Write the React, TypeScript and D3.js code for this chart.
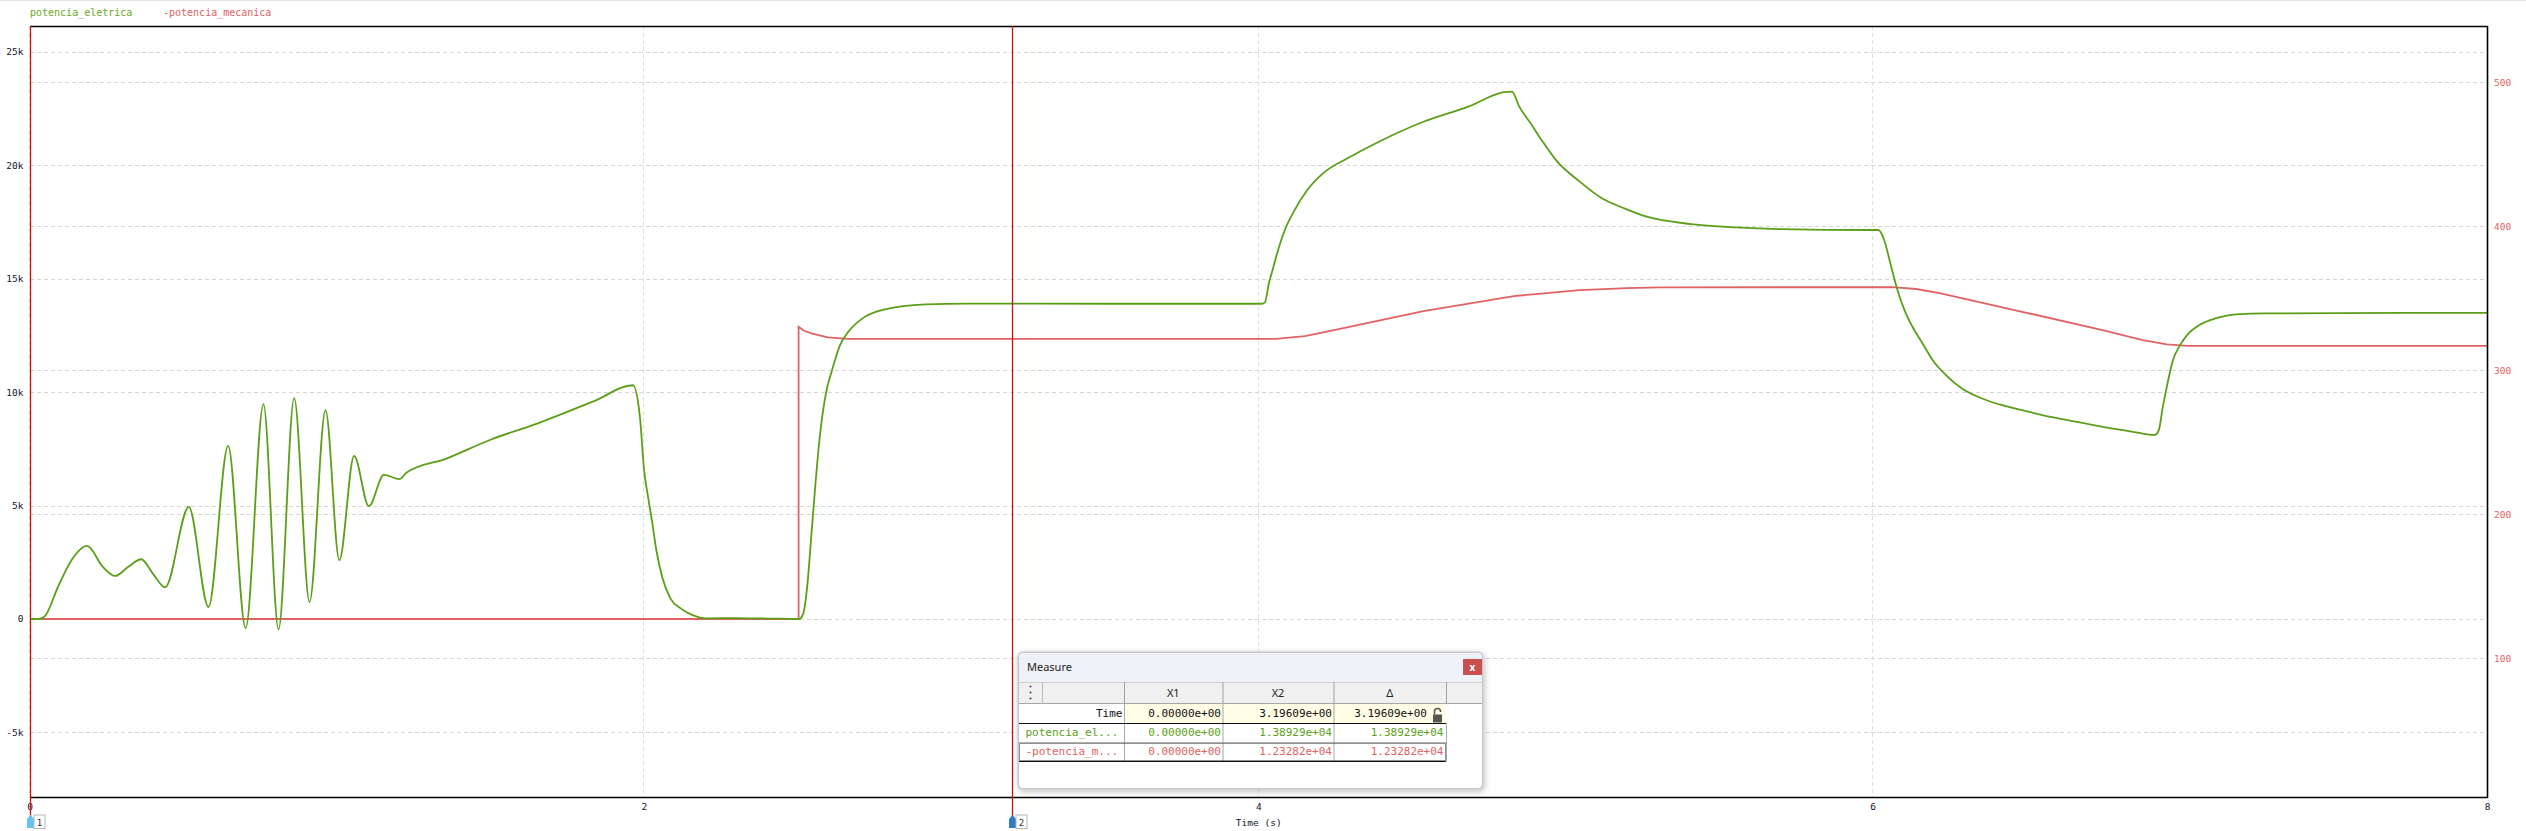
import React from "react";
import * as d3 from "d3";

// ---------- data ----------
const eletricaT = [0, 0.03, 0.05, 0.091, 0.135, 0.186, 0.237, 0.277, 0.32, 0.362, 0.40, 0.44, 0.517, 0.581, 0.645, 0.702, 0.760, 0.809, 0.860, 0.910, 0.962, 1.007, 1.055, 1.103, 1.152, 1.203, 1.225, 1.356, 1.501, 1.646, 1.836, 1.963, 1.986, 1.999, 2.012, 2.026, 2.039, 2.058, 2.085, 2.119, 2.159, 2.199, 2.30, 2.40, 2.504, 2.517, 2.531, 2.544, 2.557, 2.571, 2.591, 2.611, 2.637, 2.664, 2.710, 2.783, 2.916, 3.049, 3.5, 4.006, 4.020, 4.033, 4.042, 4.063, 4.085, 4.114, 4.158, 4.216, 4.289, 4.391, 4.536, 4.682, 4.798, 4.824, 4.848, 4.885, 4.928, 4.972, 5.045, 5.117, 5.190, 5.263, 5.408, 5.554, 5.699, 5.989, 6.017, 6.036, 6.056, 6.076, 6.102, 6.128, 6.161, 6.194, 6.237, 6.289, 6.355, 6.420, 6.485, 6.551, 6.616, 6.682, 6.747, 6.813, 6.878, 6.917, 6.930, 6.943, 6.956, 6.976, 6.996, 7.022, 7.062, 7.114, 7.193, 7.271, 8.0];
const eletricaV = [0, 0, 150, 1410, 2590, 3219, 2300, 1896, 2300, 2632, 2000, 1398, 4938, 529, 7628, -410, 9466, -454, 9730, 750, 9200, 2590, 7190, 4970, 6350, 6160, 6440, 7070, 7910, 8585, 9600, 10300, 8835, 6556, 5380, 4205, 3030, 1850, 900, 458, 163, 30, 40, 20, 0, 235, 1560, 3765, 5970, 8025, 9940, 10965, 12070, 12655, 13245, 13640, 13860, 13900, 13890, 13890, 13950, 14790, 15230, 16260, 17140, 17950, 18900, 19710, 20300, 21030, 21910, 22575, 23210, 23240, 22575, 21840, 20960, 20150, 19270, 18535, 18095, 17725, 17400, 17255, 17180, 17140, 17140, 16700, 15670, 14640, 13610, 12875, 12140, 11405, 10745, 10160, 9717, 9420, 9200, 8980, 8805, 8640, 8465, 8320, 8170, 8110, 8320, 9350, 10230, 11405, 11990, 12510, 12950, 13245, 13435, 13465, 13490];

const mecanicaT = [0, 2.502, 2.502, 2.52, 2.544, 2.597, 2.664, 4.056, 4.15, 4.245, 4.536, 4.831, 5.045, 5.2, 5.307, 6.062, 6.14, 6.220, 6.485, 6.747, 6.878, 6.956, 7.024, 8.0];
const mecanicaV = [0, 0, 12875, 12700, 12583, 12407, 12346, 12340, 12460, 12730, 13567, 14228, 14493, 14580, 14610, 14625, 14540, 14347, 13536, 12730, 12288, 12098, 12037, 12037];

const xTicks = [0, 2, 4, 6, 8];
const leftTicks = [-5000, 0, 5000, 10000, 15000, 20000, 25000];
const leftTickLabels = ["-5k", "0", "5k", "10k", "15k", "20k", "25k"];
const rightTicks = [100, 200, 300, 400, 500];

const seriesNames = ["potencia_eletrica", "-potencia_mecanica"];
const cursorTimes = [0, 3.19609];
const measureCols = ["X1", "X2", "Δ"];
const measureLabels = ["Time", "potencia_el...", "-potencia_m..."];
const measureTime = ["0.00000e+00", "3.19609e+00", "3.19609e+00"];
const measureEl = ["0.00000e+00", "1.38929e+04", "1.38929e+04"];
const measureMec = ["0.00000e+00", "1.23282e+04", "1.23282e+04"];

// ---------- styles ----------
const GREEN = "#5b9f19";
const RED = "#e06262";
const CURSOR = "#cc1111";
const MONO = "'DejaVu Sans Mono', monospace";
const SANS = "'Noto Sans', 'DejaVu Sans', sans-serif";

const W = 2526, H = 831;
const L = 30, R = 2487.5, T = 26, B = 797.5;

export default function App() {
  const x = d3.scaleLinear().domain([0, 8]).range([L, R]);
  const yL = d3.scaleLinear().domain([-7865, 26128]).range([B, T]);
  const yR = d3.scaleLinear().domain([3.5, 539.1]).range([B, T]);

  const elData = eletricaT.map((t, i) => [t, eletricaV[i]] as [number, number]);
  const meData = mecanicaT.map((t, i) => [t, mecanicaV[i]] as [number, number]);

  const elLine = d3.line<[number, number]>().x(d => x(d[0])).y(d => yL(d[1])).curve(d3.curveMonotoneX);
  const meLine = d3.line<[number, number]>().x(d => x(d[0])).y(d => yL(d[1])).curve(d3.curveLinear);

  const snap = (v: number) => Math.round(v) + 0.5;

  // measure box layout
  const bx = 1018, by = 652, bw = 465, bh = 137;
  const colX = [1018, 1124, 1222.5, 1333.5, 1446, 1483];
  const rowY = [682, 704, 723, 742, 761];
  const rowTexts = [measureTime, measureEl, measureMec];
  const rowColors = ["#111", GREEN, RED];

  return (
    <svg width={W} height={H} style={{ position: "fixed", left: 0, top: 0, background: "#fff" }}>
      <defs>
        <filter id="shadow" x="-10%" y="-10%" width="130%" height="140%">
          <feDropShadow dx="1" dy="2" stdDeviation="3" floodColor="#000" floodOpacity="0.25" />
        </filter>
        <clipPath id="plotclip"><rect x={L} y={T} width={R - L} height={B - T} /></clipPath>
      </defs>
      <rect x={0} y={0} width={W} height={H} fill="#fff" />
      <rect x={0} y={0} width={W} height={1} fill="#e4e4e4" />

      {/* legend */}
      <text x={30} y={16} fontFamily={MONO} fontSize={10} fill="#6aa91f">{seriesNames[0]}</text>
      <text x={163} y={16} fontFamily={MONO} fontSize={10} fill={RED}>{seriesNames[1]}</text>

      {/* grid */}
      <g stroke="#d6d6d6" strokeWidth={1} strokeDasharray="4,3">
        {leftTicks.map(v => (
          <line key={"gl" + v} x1={L} x2={R} y1={snap(yL(v))} y2={snap(yL(v))} />
        ))}
        {rightTicks.map(v => (
          <line key={"gr" + v} x1={L} x2={R} y1={snap(yR(v))} y2={snap(yR(v))} />
        ))}
      </g>
      <g stroke="#dde3d2" strokeWidth={1} strokeDasharray="4,3">
        {xTicks.map(v => (
          <line key={"gx" + v} x1={snap(x(v)) - 1} x2={snap(x(v)) - 1} y1={T} y2={B} />
        ))}
      </g>

      {/* series */}
      <g clipPath="url(#plotclip)">
        <path d={meLine(meData) || ""} fill="none" stroke={RED} strokeWidth={1.8} />
        <path d={elLine(elData) || ""} fill="none" stroke={GREEN} strokeWidth={1.8} />
      </g>

      {/* frame */}
      <path d={`M${L},${T + 0.5}H${R}V${B}H${L}`} fill="none" stroke="#000" strokeWidth={1.6} />

      {/* left axis labels */}
      {leftTicks.map((v, i) => (
        <text key={"lt" + v} x={23.5} y={yL(v) + 3.5} textAnchor="end" fontFamily={MONO} fontSize={9.5} fill="#14142a">
          {leftTickLabels[i]}
        </text>
      ))}
      {/* right axis labels */}
      {rightTicks.map(v => (
        <text key={"rt" + v} x={2494} y={yR(v) + 3.5} fontFamily={MONO} fontSize={9.5} fill={RED}>
          {v}
        </text>
      ))}
      {/* x axis labels */}
      {xTicks.map(v => (
        <text key={"xt" + v} x={x(v)} y={810} textAnchor="middle" fontFamily={MONO} fontSize={9.5} fill="#14142a">
          {v}
        </text>
      ))}
      <text x={(L + R) / 2} y={826} textAnchor="middle" fontFamily={MONO} fontSize={9.5} fill="#14142a">Time (s)</text>

      {/* cursors */}
      {cursorTimes.map((t, i) => {
        const cx = Math.round(x(t)) + 0.5;
        const my = 815;
        return (
          <g key={"c" + i}>
            <line x1={cx} x2={cx} y1={T} y2={my + 2} stroke={CURSOR} strokeWidth={1.3} />
            <path d={`M${cx - 3.5},${my + 13}V${my + 4}L${cx},${my}L${cx + 3.5},${my + 4}V${my + 13}Z`} fill={i === 0 ? "#62c4f6" : "#2f7fc2"} />
            <rect x={cx + 3.5} y={my} width={11} height={13.5} fill="#fff" stroke="#b8b8b8" strokeWidth={1} />
            <text x={cx + 9} y={my + 10.5} textAnchor="middle" fontFamily={MONO} fontSize={9} fill="#333">{i + 1}</text>
          </g>
        );
      })}

      {/* measure box */}
      <g>
        <rect x={bx} y={by} width={bw} height={bh} rx={4} fill="#fff" stroke="#c6c6c6" filter="url(#shadow)" />
        <path d={`M${bx + 4},${by}H${bx + bw - 4}Q${bx + bw},${by} ${bx + bw},${by + 4}V${rowY[0]}H${bx}V${by + 4}Q${bx},${by} ${bx + 4},${by}Z`} fill="#eef2f8" />
        <rect x={bx + 0.5} y={by + 0.5} width={bw - 1} height={bh - 1} rx={4} fill="none" stroke="#c6c6c6" />
        <text x={1027} y={671} fontFamily={SANS} fontSize={11} fill="#222">Measure</text>
        <rect x={1463} y={659} width={19} height={16} fill="#c9504f" />
        <text x={1472.5} y={670.5} textAnchor="middle" fontFamily={SANS} fontSize={10} fontWeight="bold" fill="#fff">x</text>

        {/* header row */}
        <rect x={bx + 1} y={rowY[0]} width={bw - 2} height={rowY[1] - rowY[0]} fill="#f0f0f0" />
        <line x1={bx + 1} x2={bx + bw - 1} y1={rowY[0] + 0.5} y2={rowY[0] + 0.5} stroke="#d0d0d0" />
        <line x1={bx + 1} x2={bx + bw - 1} y1={rowY[1] - 0.5} y2={rowY[1] - 0.5} stroke="#a8a8a8" />
        <line x1={1042.5} x2={1042.5} y1={rowY[0]} y2={rowY[1]} stroke="#b8b8b8" />
        {colX.slice(1, 5).map((cx, i) => (
          <line key={"hc" + i} x1={cx + 0.5} x2={cx + 0.5} y1={rowY[0]} y2={rowY[1]} stroke="#a0a0a0" />
        ))}
        {[686.5, 692.5, 698.5].map((dy, i) => (
          <circle key={"dot" + i} cx={1030.5} cy={dy} r={1} fill="#5a2d82" />
        ))}
        {measureCols.map((c, i) => (
          <text key={"mc" + i} x={(colX[i + 1] + colX[i + 2]) / 2} y={697} textAnchor="middle" fontFamily={SANS} fontSize={11} fill="#222">{c}</text>
        ))}

        {/* time row yellow cells */}
        <rect x={colX[1] + 1} y={rowY[1]} width={colX[4] - colX[1] - 1} height={rowY[2] - rowY[1]} fill="#fffde6" />

        {/* vertical cell separators */}
        {colX.slice(1, 4).map((cx, i) => (
          <line key={"vc" + i} x1={cx + 0.5} x2={cx + 0.5} y1={rowY[1]} y2={rowY[4]} stroke="#a8a8a8" />
        ))}
        <line x1={colX[4] + 0.5} x2={colX[4] + 0.5} y1={rowY[2]} y2={rowY[4]} stroke="#a8a8a8" />
        <line x1={bx + 1} x2={colX[4]} y1={rowY[2] + 0.5} y2={rowY[2] + 0.5} stroke="#111" />
        <line x1={bx + 1} x2={colX[4]} y1={rowY[3] + 0.5} y2={rowY[3] + 0.5} stroke="#b0b0b0" />
        <line x1={bx + 1} x2={colX[4]} y1={rowY[4] + 0.5} y2={rowY[4] + 0.5} stroke="#111" />
        <rect x={bx + 1.5} y={rowY[3] + 1.5} width={colX[4] - bx - 2} height={rowY[4] - rowY[3] - 2} fill="none" stroke="#222" strokeDasharray="1,1" />

        {/* labels */}
        <text x={1122.5} y={717} textAnchor="end" fontFamily={MONO} fontSize={11} fill="#111">{measureLabels[0]}</text>
        <text x={1025.5} y={736} fontFamily={MONO} fontSize={11} fill={GREEN}>{measureLabels[1]}</text>
        <text x={1025.5} y={755} fontFamily={MONO} fontSize={11} fill={RED}>{measureLabels[2]}</text>

        {rowTexts.map((vals, r) =>
          vals.map((v, c) => {
            const right = c === 0 ? 1221 : c === 1 ? 1332 : r === 0 ? 1427 : 1443.5;
            return (
              <text key={"v" + r + c} x={right} y={717 + r * 19} textAnchor="end" fontFamily={MONO} fontSize={11} fill={rowColors[r]}>{v}</text>
            );
          })
        )}
        {/* lock icon */}
        <path d="M1433,714.5 h9 v8 h-9 Z" fill="#555" />
        <path d="M1434.5,714.5 v-3 a3,3 0 0 1 6,0 v0.5" fill="none" stroke="#555" strokeWidth={1.5} />
      </g>
    </svg>
  );
}
